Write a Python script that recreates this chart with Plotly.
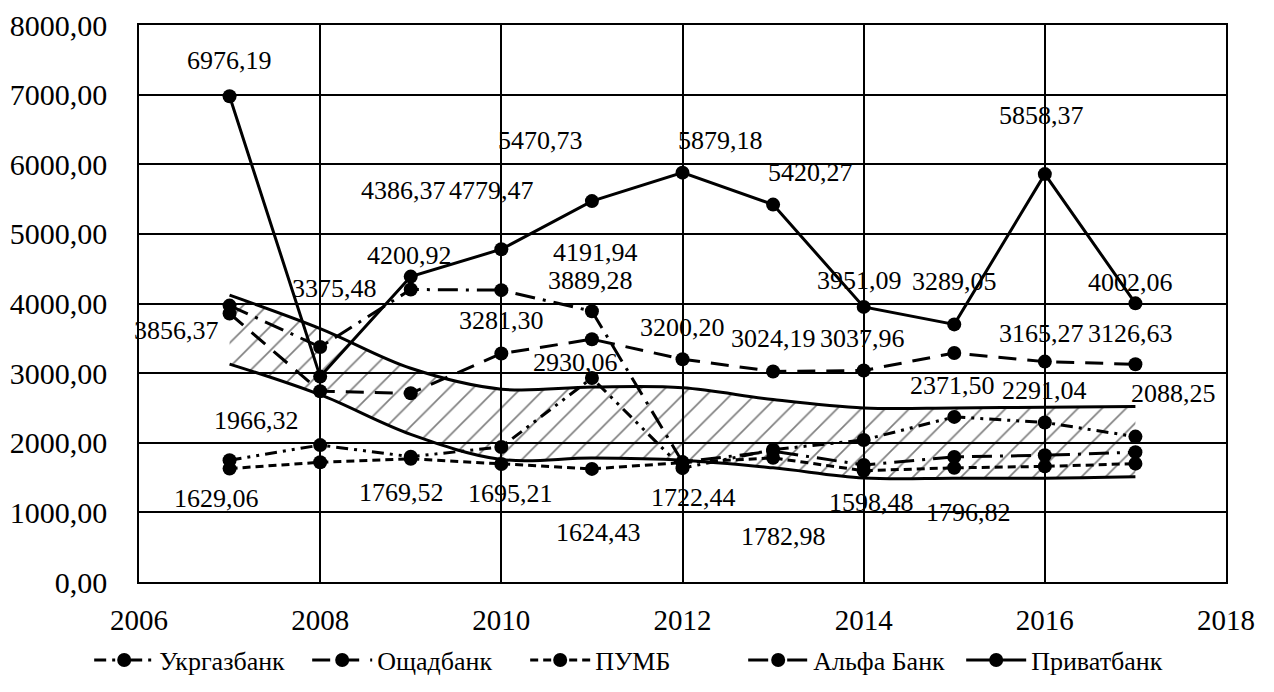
import plotly.graph_objects as go

# Years on the horizontal axis
years = [2007, 2008, 2009, 2010, 2011, 2012, 2013, 2014, 2015, 2016, 2017]

# Series values
ukrgaz = [1750.00, 1966.32, 1800.00, 1940.00, 2930.06, 1635.00, 1900.00, 2040.00, 2371.50, 2291.04, 2088.25]
oschad = [3856.37, 2740.00, 2710.00, 3281.30, 3487.00, 3200.20, 3024.19, 3037.96, 3289.05, 3165.27, 3126.63]
pumb = [1629.06, 1720.00, 1769.52, 1695.21, 1624.43, 1715.00, 1782.98, 1598.48, 1640.00, 1660.00, 1700.00]
alfa = [3970.00, 3375.48, 4200.92, 4191.94, 3889.28, 1722.44, 1880.00, 1680.00, 1796.82, 1820.00, 1865.00]
privat = [6976.19, 2950.00, 4386.37, 4779.47, 5470.73, 5879.18, 5420.27, 3951.09, 3700.00, 5858.37, 4002.06]

# Hatched corridor bounds
band_upper = [4120, 3640, 3070, 2770, 2800, 2790, 2620, 2500, 2500, 2510, 2520]
band_lower = [3130, 2690, 2120, 1760, 1780, 1750, 1640, 1495, 1490, 1490, 1510]

# Tick values
x_ticks = [2006, 2008, 2010, 2012, 2014, 2016, 2018]
y_ticks = [0, 1000, 2000, 3000, 4000, 5000, 6000, 7000, 8000]

FONT = "Times New Roman, Liberation Serif, serif"

series = [
    ("Укргазбанк", ukrgaz, "12px,6px,3px,6px,3px,6px"),
    ("Ощадбанк", oschad, "18px,11px"),
    ("ПУМБ", pumb, "8px,5px"),
    ("Альфа Банк", alfa, "20px,8px,3px,8px"),
    ("Приватбанк", privat, "solid"),
]

# Data-label placement (pixel shift from the point: dx right, dy up)
label_shift = {
    "Приватбанк": {2007: (0, 36), 2009: (-7, 86), 2010: (-10, 59), 2011: (-51, 61),
                   2012: (38, 32), 2013: (37, 32), 2014: (-4, 26), 2016: (-3, 59), 2017: (-5, 21)},
    "Ощадбанк": {2007: (-53, -17), 2010: (0, 33), 2012: (0, 32), 2013: (0, 33), 2014: (-1, 32),
                 2015: (0, 72), 2016: (-3, 28), 2017: (-5, 31)},
    "Альфа Банк": {2008: (14, 58), 2009: (-1, 34), 2010: (94, 38), 2011: (-1, 31),
                   2012: (11, -35), 2015: (14, -56)},
    "Укргазбанк": {2008: (-64, 25), 2011: (-16, 15), 2015: (-2, 31), 2016: (0, 32), 2017: (38, 43)},
    "ПУМБ": {2007: (-13, -30), 2009: (-9, -34), 2010: (9, -30), 2011: (7, -64),
             2013: (10, -79), 2014: (8, -32)},
}

fig = go.Figure()

# Corridor: lower bound, then upper bound filled down to it with hatching
fig.add_trace(go.Scatter(
    x=years, y=band_lower, mode="lines", line=dict(color="black", width=3, shape="spline"),
    showlegend=False, hoverinfo="skip"))
fig.add_trace(go.Scatter(
    x=years, y=band_upper, mode="lines", line=dict(color="black", width=3, shape="spline"),
    fill="tonexty", fillcolor="rgba(0,0,0,0)",
    fillpattern=dict(shape="/", fgcolor="black", size=17, solidity=0.1),
    showlegend=False, hoverinfo="skip"))

for name, vals, dash in series:
    fig.add_trace(go.Scatter(
        x=years, y=vals, name=name, mode="lines+markers",
        line=dict(color="black", width=3, dash=dash),
        marker=dict(color="black", size=14)))

annotations = []
for name, vals, _ in series:
    for yr, (dx, dy) in label_shift[name].items():
        v = vals[years.index(yr)]
        annotations.append(dict(
            x=yr, y=v, xref="x", yref="y", text=f"{v:.2f}".replace(".", ","),
            showarrow=False, xshift=dx, yshift=dy,
            font=dict(family=FONT, size=26, color="black")))

fig.update_layout(
    width=1274, height=692,
    margin=dict(l=139, r=48, t=25, b=110, autoexpand=False),
    paper_bgcolor="white", plot_bgcolor="white",
    separators=", ",
    font=dict(family=FONT, color="black"),
    annotations=annotations,
    legend=dict(orientation="h", xref="container", yref="container",
                x=0.07, xanchor="left", y=0.046, yanchor="middle",
                traceorder="normal",
                font=dict(family=FONT, size=26, color="black"),
                itemwidth=60, entrywidth=143, bgcolor="rgba(0,0,0,0)"),
)
fig.update_xaxes(
    range=[2006, 2018], tickvals=x_ticks, ticktext=[str(t) for t in x_ticks],
    showgrid=True, gridcolor="black", gridwidth=1.5,
    showline=True, linecolor="black", linewidth=1.5, mirror=True,
    zeroline=False, ticks="", ticklabelstandoff=11, automargin=False,
    tickfont=dict(family=FONT, size=29, color="black"))
fig.update_yaxes(
    range=[0, 8000], tickvals=y_ticks, tickformat=".2f",
    showgrid=True, gridcolor="black", gridwidth=1.5,
    showline=True, linecolor="black", linewidth=1.5, mirror=True,
    zeroline=False, ticks="", ticklabelstandoff=24, automargin=False,
    tickfont=dict(family=FONT, size=30, color="black"))

fig.write_html("out.html")
